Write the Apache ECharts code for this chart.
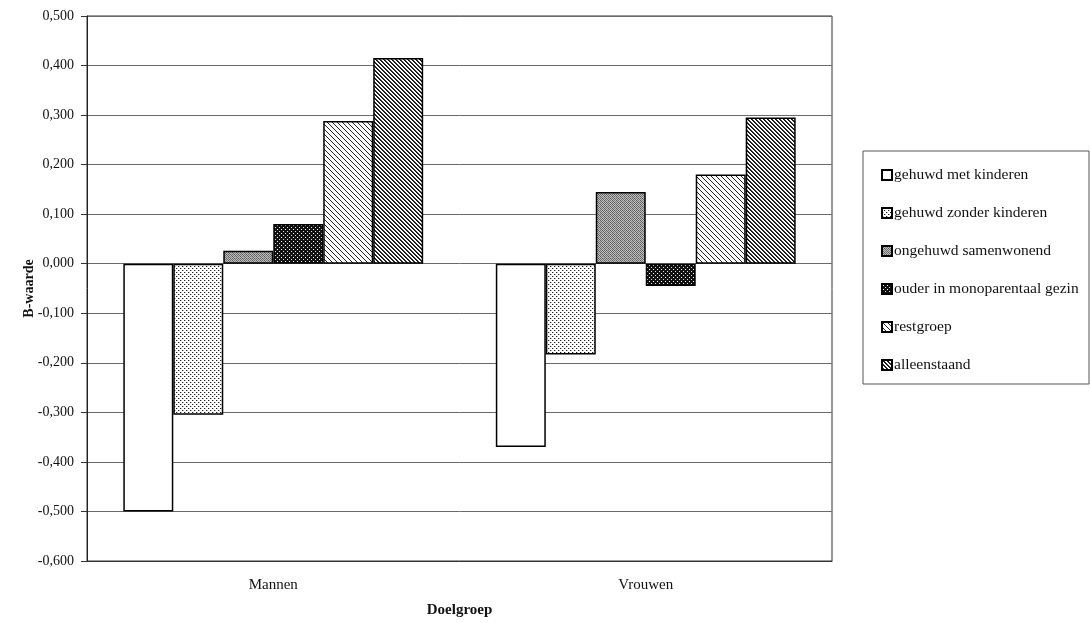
<!DOCTYPE html>
<html>
<head>
<meta charset="utf-8">
<script src="https://cdn.jsdelivr.net/npm/echarts@6/dist/echarts.min.js"></script>
<style>
html,body{margin:0;padding:0;background:#fff;}
#chart{width:1090px;height:623px;}
</style>
</head>
<body>
<div id="chart"></div>
<script>
// ---- data ----
const categories = ['Mannen', 'Vrouwen'];
const seriesNames = ['gehuwd met kinderen', 'gehuwd zonder kinderen', 'ongehuwd samenwonend', 'ouder in monoparentaal gezin', 'restgroep', 'alleenstaand'];
const gehuwdMetKinderen = [-0.500, -0.370];
const gehuwdZonderKinderen = [-0.305, -0.183];
const ongehuwdSamenwonend = [0.026, 0.145];
const ouderMonoparentaal = [0.080, -0.045];
const restgroep = [0.288, 0.180];
const alleenstaand = [0.415, 0.295];
const yTicks = {min: -0.6, max: 0.5, interval: 0.1};

const seriesValues = [gehuwdMetKinderen, gehuwdZonderKinderen, ongehuwdSamenwonend, ouderMonoparentaal, restgroep, alleenstaand];

// ---- patterns ----
function makeCanvas(w, h, bg, draw) {
  const c = document.createElement('canvas');
  c.width = w; c.height = h;
  const ctx = c.getContext('2d');
  ctx.fillStyle = bg; ctx.fillRect(0, 0, w, h);
  draw(ctx);
  return c;
}
function px(ctx, x, y, col) { ctx.fillStyle = col; ctx.fillRect(x, y, 1, 1); }

const patWhite = '#ffffff';
const patDots = makeCanvas(4, 4, '#ffffff', ctx => {
  px(ctx, 0, 0, '#222'); px(ctx, 2, 2, '#222');
  px(ctx, 1, 0, '#bbb'); px(ctx, 3, 2, '#bbb');
});
const patGray = makeCanvas(4, 4, '#bdbdbd', ctx => {
  px(ctx, 0, 0, '#555'); px(ctx, 2, 0, '#777'); px(ctx, 1, 1, '#666'); px(ctx, 3, 1, '#888');
  px(ctx, 0, 2, '#666'); px(ctx, 2, 2, '#555'); px(ctx, 1, 3, '#777'); px(ctx, 3, 3, '#666');
});
const patDark = makeCanvas(4, 4, '#111111', ctx => {
  px(ctx, 1, 1, '#ffffff'); px(ctx, 3, 3, '#dddddd');
});
const patDiagLight = makeCanvas(5, 5, '#ffffff', ctx => {
  for (let i = 0; i < 5; i++) px(ctx, i, i, '#222');
});
const patDiagDark = makeCanvas(4, 4, '#ffffff', ctx => {
  for (let i = 0; i < 4; i++) { px(ctx, i, i, '#111'); px(ctx, (i + 1) % 4, i, '#333'); }
});
const fills = [
  patWhite,
  {image: patDots, repeat: 'repeat'},
  {image: patGray, repeat: 'repeat'},
  {image: patDark, repeat: 'repeat'},
  {image: patDiagLight, repeat: 'repeat'},
  {image: patDiagDark, repeat: 'repeat'}
];

const FONT = '"Liberation Serif", "DejaVu Serif", serif';

const chart = echarts.init(document.getElementById('chart'), null, {renderer: 'canvas'});
const option = {
  backgroundColor: '#ffffff',
  animation: false,
  textStyle: {fontFamily: FONT},
  grid: {left: 87, right: 258, top: 16, bottom: 60, show: true, borderColor: '#333', borderWidth: 1, containLabel: false},
  xAxis: {
    type: 'category',
    data: categories,
    name: 'Doelgroep',
    nameLocation: 'middle',
    nameMoveOverlap: false,
    nameGap: 42,
    nameTextStyle: {fontFamily: FONT, fontWeight: 'bold', fontSize: 15, color: '#111'},
    axisLine: {onZero: false, lineStyle: {color: '#333'}},
    axisTick: {show: false},
    axisLabel: {fontFamily: FONT, fontSize: 15, color: '#111', margin: 17}
  },
  yAxis: {
    type: 'value',
    min: yTicks.min, max: yTicks.max, interval: yTicks.interval,
    name: 'B-waarde',
    nameLocation: 'middle',
    nameMoveOverlap: false,
    nameRotate: 90,
    nameGap: 51,
    nameTextStyle: {fontFamily: FONT, fontWeight: 'bold', fontSize: 14, color: '#111'},
    axisLine: {show: true, lineStyle: {color: '#222', width: 1}},
    axisTick: {show: true, length: 6, lineStyle: {color: '#333'}},
    axisLabel: {fontFamily: FONT, fontSize: 14, color: '#111', margin: 13,
      formatter: v => (Math.round(v * 1000) / 1000).toFixed(3).replace('.', ',')},
    splitLine: {show: true, lineStyle: {color: '#6a6a6a', width: 1}}
  },
  legend: {
    orient: 'vertical',
    left: 876, top: 162,
    itemWidth: 10, itemHeight: 10,
    itemGap: 22,
    icon: 'rect',
    textStyle: {fontFamily: FONT, fontSize: 15.5, lineHeight: 15.5, color: '#111', padding: [0, 0, 0, -3]},
    data: seriesNames
  },
  graphic: [{
    type: 'rect',
    shape: {x: 863, y: 151, width: 226, height: 233},
    style: {fill: 'none', stroke: '#555', lineWidth: 1},
    z: 0
  }],
  series: seriesNames.map((name, i) => ({
    name: name,
    type: 'bar',
    data: seriesValues[i],
    barGap: '0%',
    barCategoryGap: '19.5%',
    itemStyle: {color: fills[i], borderColor: '#000', borderWidth: 1.5},
    emphasis: {disabled: true}
  }))
};
chart.setOption(option);
</script>
</body>
</html>
